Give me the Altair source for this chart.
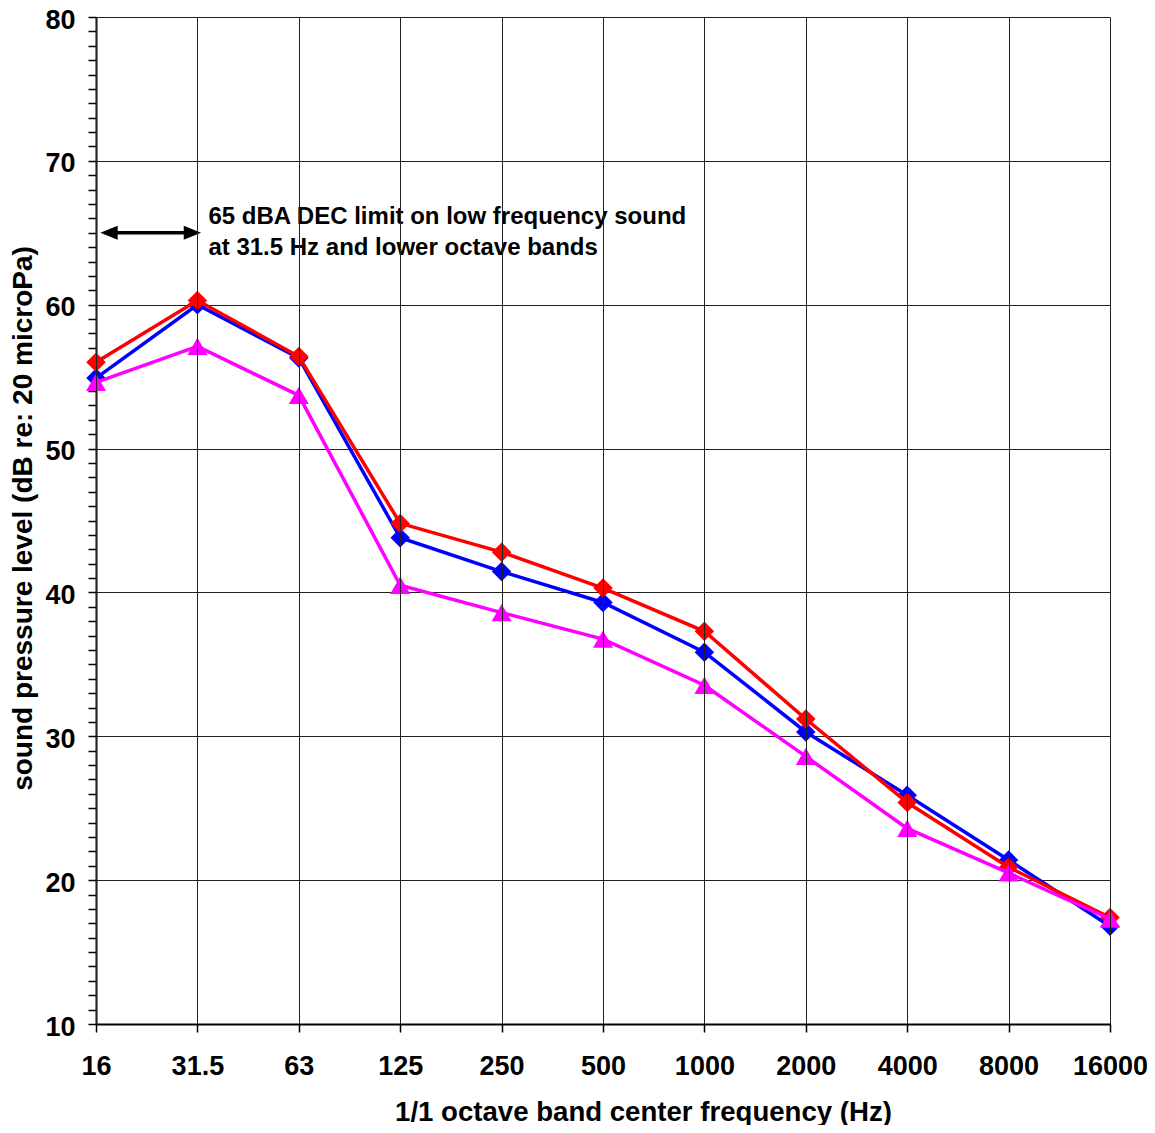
import altair as alt
import pandas as pd

# ---- data ----
freqs = ["16", "31.5", "63", "125", "250", "500", "1000", "2000", "4000", "8000", "16000"]
red_vals = [56.0, 60.3, 56.4, 44.8, 42.8, 40.3, 37.3, 31.2, 25.4, 20.9, 17.4]
blue_vals = [54.9, 60.0, 56.3, 43.8, 41.45, 39.3, 35.85, 30.3, 25.9, 21.4, 16.8]
magenta_vals = [54.6, 57.1, 53.7, 40.5, 38.6, 36.75, 33.55, 28.6, 23.6, 20.5, 17.3]

annotation_lines = "65 dBA DEC limit on low frequency sound\nat 31.5 Hz and lower octave bands"
limit_level = 65
limit_from = "16"
limit_to = "31.5"
box_from, box_to = "31.5", "1000"
box_top, box_bottom = 67.3, 62.7

y_ticks = list(range(10, 81))
x_title = "1/1 octave band center frequency (Hz)"
y_title = "sound pressure level (dB re: 20 microPa)"

FONT = "Liberation Sans"

x_axis = alt.Axis(
    grid=True, gridColor="#222222", gridWidth=1,
    domainColor="black", domainWidth=2,
    tickColor="black", tickWidth=1.5, tickSize=8,
    labelAngle=0, labelFont=FONT, labelFontSize=27, labelFontWeight="bold",
    labelColor="black", labelBaseline="middle", labelPadding=34,
    labelFlush=False, labelOverlap=False,
    titleFont=FONT, titleFontSize=27.6, titleFontWeight="bold", titleColor="black",
    titleX=547, titleY=88, titleBaseline="middle",
)
y_axis = alt.Axis(
    values=y_ticks,
    grid=True, gridColor="#222222", gridWidth=1,
    gridOpacity={"condition": {"test": "datum.value % 10 === 0", "value": 1}, "value": 0},
    labelExpr="datum.value % 10 === 0 ? datum.label : ''",
    domainColor="black", domainWidth=2,
    tickColor="black", tickWidth=1.5, tickSize=8,
    labelFont=FONT, labelFontSize=27, labelFontWeight="bold", labelColor="black",
    labelPadding=13, labelOffset=3, labelFlush=False, labelOverlap=False,
    titleFont=FONT, titleFontSize=28, titleFontWeight="bold", titleColor="black",
    titleX=-73, titleY=501, titleBaseline="middle", titleAngle=270,
)

x_scale = alt.Scale(type="point", domain=freqs, padding=0)
y_scale = alt.Scale(domain=[10, 80], nice=False, zero=False)

X = alt.X("freq:N", scale=x_scale, axis=x_axis, title=x_title, sort=freqs)
Y = alt.Y("val:Q", scale=y_scale, axis=y_axis, title=y_title)


def series(vals, color, shape, size):
    df = pd.DataFrame({"freq": freqs, "val": vals})
    base = alt.Chart(df).encode(x=X, y=Y)
    line = base.mark_line(color=color, strokeWidth=3.5)
    pts = base.mark_point(shape=shape, filled=True, color=color, size=size, opacity=1)
    return line + pts


# annotation
box_df = pd.DataFrame({"freq": [box_from], "freq2": [box_to], "val": [box_top], "val2": [box_bottom]})
box = alt.Chart(box_df).mark_rect(color="white", xOffset=2, x2Offset=-6).encode(
    x=X, x2="freq2:N", y=Y, y2="val2:Q"
)

arrow_df = pd.DataFrame({"freq": [limit_from], "freq2": [limit_to], "val": [limit_level]})
arrow_line = alt.Chart(arrow_df).mark_rule(color="black", strokeWidth=3.5, xOffset=10, x2Offset=-7).encode(
    x=X, x2="freq2:N", y=Y
)
left_head_df = pd.DataFrame({"freq": [limit_from], "val": [limit_level]})
right_head_df = pd.DataFrame({"freq": [limit_to], "val": [limit_level]})
left_head = alt.Chart(left_head_df).mark_point(
    shape="M-1,0L1,-0.8L1,0.8Z", filled=True, color="black", size=300, opacity=1, xOffset=13
).encode(x=X, y=Y)
right_head = alt.Chart(right_head_df).mark_point(
    shape="M1,0L-1,-0.8L-1,0.8Z", filled=True, color="black", size=300, opacity=1, xOffset=-5
).encode(x=X, y=Y)

text_df = pd.DataFrame({"freq": [limit_to], "val": [limit_level], "label": [annotation_lines]})
ann_text = alt.Chart(text_df).mark_text(
    align="left", baseline="middle", dx=11, dy=-16, lineBreak="\n", lineHeight=31,
    font=FONT, fontSize=24, fontWeight="bold", color="black"
).encode(x=X, y=Y, text="label:N")

chart = alt.layer(
    box, arrow_line, left_head, right_head, ann_text,
    series(blue_vals, "#0000FF", "diamond", 380),
    series(red_vals, "#FF0000", "diamond", 380),
    series(magenta_vals, "#FF00FF", "triangle-up", 400),
).properties(
    width=1014, height=1007,
    autosize=alt.AutoSizeParams(type="none"),
    padding={"left": 88, "top": 9, "right": 37, "bottom": 101},
    background="white",
).configure_view(stroke="transparent")

chart.save("out.html", embed_options={"renderer": "svg", "actions": False})
